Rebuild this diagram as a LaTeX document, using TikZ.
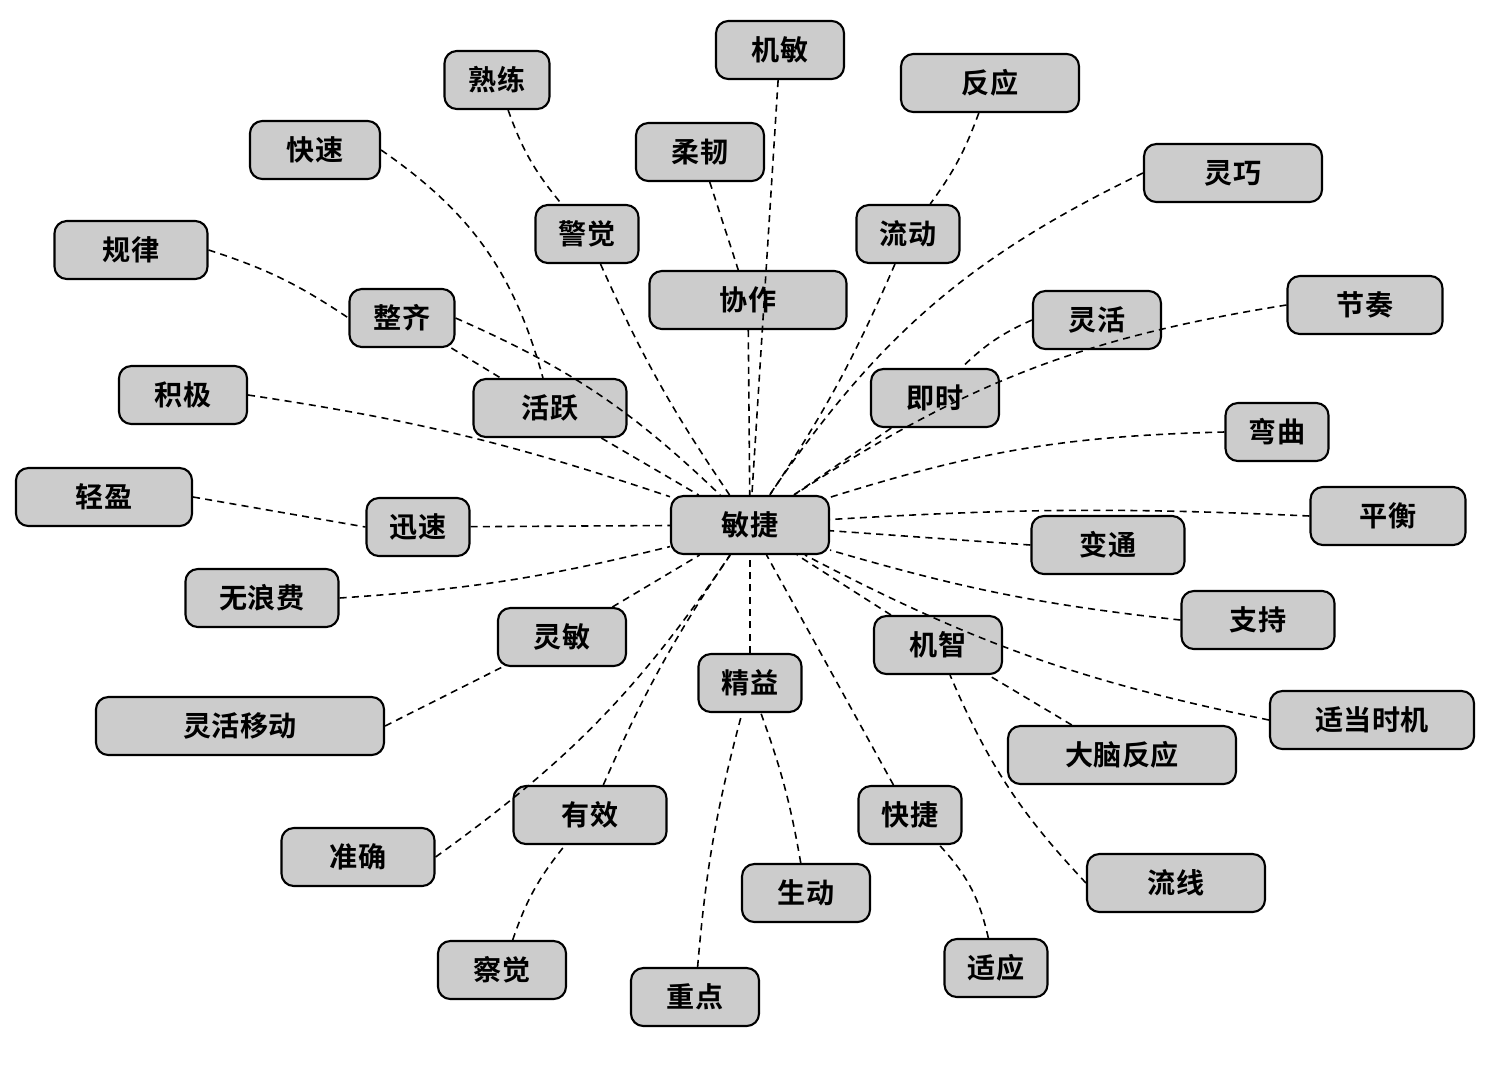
\documentclass[tikz,border=0pt]{standalone}
\usepackage{fontspec}
\newfontfamily\cjk{Noto Sans CJK SC}[BoldFont={Noto Sans CJK SC Bold}]
\begin{document}
\begin{tikzpicture}[x=0.02cm,y=-0.02cm,
  box/.style={draw=black,line width=1.2pt,fill=gray!40,rounded corners=7pt,
    minimum height=1.16cm,inner sep=2pt,font=\cjk\fontsize{16}{18}\selectfont\bfseries},
  lk/.style={dashed,line width=0.9pt,dash pattern=on 4pt off 3pt}]
\useasboundingbox (0,0) rectangle (1500,1065);
\fill[white] (0,0) rectangle (1500,1065);
\newcommand\bx[5]{\node[box,minimum width=#4*0.02cm] (#1) at (#2,#3) {#5};}
% edges first drawn after nodes on background? draw nodes later
\begin{scope}
\path
 (780,50) coordinate (p1);
\end{scope}
\bx{c}{750}{525}{158}{敏捷}
\bx{jm}{780}{50}{128}{机敏}
\bx{sl}{497}{80}{105}{熟练}
\bx{fy}{990}{83}{178}{反应}
\bx{ks}{315}{150}{130}{快速}
\bx{rr}{700}{152}{128}{柔韧}
\bx{lq}{1233}{173}{178}{灵巧}
\bx{gl}{131}{250}{153}{规律}
\bx{jj}{587}{234}{103}{警觉}
\bx{ld}{908}{234}{103}{流动}
\bx{xz}{748}{300}{197}{协作}
\bx{jz}{1365}{305}{155}{节奏}
\bx{zq}{402}{318}{105}{整齐}
\bx{lh}{1097}{320}{128}{灵活}
\bx{jji}{183}{395}{128}{积极}
\bx{hy}{550}{408}{153}{活跃}
\bx{js}{935}{398}{128}{即时}
\bx{wq}{1277}{432}{103}{弯曲}
\bx{qy}{104}{497}{176}{轻盈}
\bx{xs}{418}{527}{103}{迅速}
\bx{ph}{1388}{516}{155}{平衡}
\bx{bt}{1108}{545}{153}{变通}
\bx{wlf}{262}{598}{153}{无浪费}
\bx{zc}{1258}{620}{153}{支持}
\bx{lm}{562}{637}{128}{灵敏}
\bx{jzh}{938}{645}{128}{机智}
\bx{jy}{750}{683}{103}{精益}
\bx{lhyd}{240}{726}{288}{灵活移动}
\bx{dd}{1372}{720}{204}{适当时机}
\bx{dn}{1122}{755}{228}{大脑反应}
\bx{yx}{590}{815}{153}{有效}
\bx{kj}{910}{815}{103}{快捷}
\bx{zqu}{358}{857}{153}{准确}
\bx{lx}{1176}{883}{178}{流线}
\bx{sd}{806}{893}{128}{生动}
\bx{cj}{502}{970}{128}{察觉}
\bx{sy}{996}{968}{103}{适应}
\bx{zd}{695}{997}{128}{重点}
\begin{scope}[on background layer/.try]
\end{scope}
% connectors
\draw[lk] (sl) to[bend right=10] (jj);
\draw[lk] (jj) to[bend right=5] (c);
\draw[lk] (jm) -- (c);
\draw[lk] (rr) -- (xz);
\draw[lk] (xz) -- (c);
\draw[lk] (fy) to[bend left=8] (ld);
\draw[lk] (ld) to[bend left=5] (c);
\draw[lk] (ks.east) to[bend left=20] (hy);
\draw[lk] (gl.east) to[bend left=8] (zq.west);
\draw[lk] (zq) -- (hy);
\draw[lk] (zq.east) to[bend left=10] (c);
\draw[lk] (hy) -- (c);
\draw[lk] (lq.west) to[bend right=15] (c);
\draw[lk] (lh.west) to[bend right=10] (js);
\draw[lk] (js) -- (c);
\draw[lk] (jz.west) to[bend right=12] (c);
\draw[lk] (wq.west) to[bend right=8] (c);
\draw[lk] (ph.west) to[bend right=3] (c);
\draw[lk] (bt.west) -- (c);
\draw[lk] (zc.west) to[bend left=5] (c);
\draw[lk] (dd.west) to[bend left=8] (c);
\draw[lk] (jzh) -- (c);
\draw[lk] (dn) -- (jzh);
\draw[lk] (lx.west) to[bend left=10] (jzh);
\draw[lk] (kj) -- (c);
\draw[lk] (sy) to[bend right=15] (kj);
\draw[lk] (jy) -- (c);
\draw[lk] (sd) to[bend right=5] (jy);
\draw[lk] (zd) to[bend left=5] (jy);
\draw[lk] (lm) -- (c);
\draw[lk] (lhyd.east) -- (lm);
\draw[lk] (zqu.east) to[bend right=10] (c);
\draw[lk] (yx) to[bend left=5] (c);
\draw[lk] (cj) to[bend left=10] (yx);
\draw[lk] (xs) -- (c);
\draw[lk] (qy.east) -- (xs.west);
\draw[lk] (wlf.east) to[bend right=5] (c);
\draw[lk] (jji.east) to[bend left=5] (c);
% redraw nodes on top
\foreach \n in {c,jm,sl,fy,ks,rr,lq,gl,jj,ld,xz,jz,zq,lh,jji,hy,js,wq,qy,xs,ph,bt,wlf,zc,lm,jzh,jy,lhyd,dd,dn,yx,kj,zqu,lx,sd,cj,sy,zd}{}
\end{tikzpicture}
\end{document}
